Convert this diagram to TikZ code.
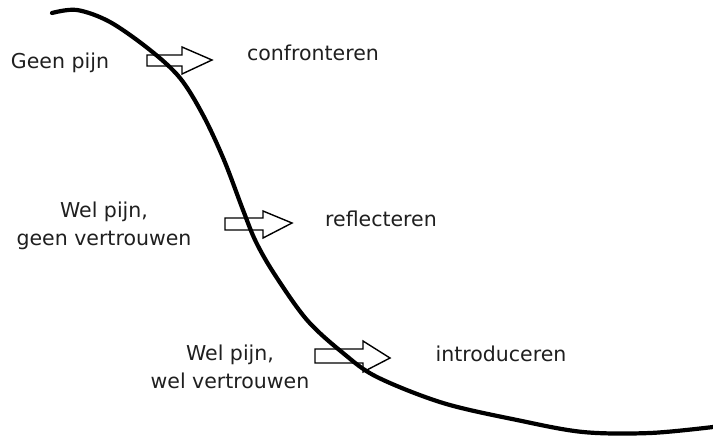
\documentclass[tikz,border=0pt]{standalone}
\usepackage{fontspec}
\setmainfont{DejaVu Sans}
\begin{document}
\begin{tikzpicture}[x=1pt,y=-1pt,
  lbl/.style={font=\fontsize{20.5}{28}\selectfont, text=black!88, inner sep=0pt, align=center},
  blockarrow/.style={draw=black, line width=1.4pt, line join=miter}]
\useasboundingbox (0,0) rectangle (713,440);
\fill[white] (0,0) rectangle (713,440);
% arrows
\draw[blockarrow] (147,55) -- (182,55) -- (182,47) -- (212,60) -- (182,74) -- (182,66) -- (147,66) -- cycle;
\draw[blockarrow] (225,218) -- (263,218) -- (263,211) -- (292,223) -- (263,238) -- (263,230) -- (225,230) -- cycle;
\draw[blockarrow] (315,349) -- (363,349) -- (363,341) -- (390,358) -- (363,372) -- (363,363) -- (315,363) -- cycle;
% curve
\draw[line width=4.2pt, line cap=round] plot[smooth, tension=0.55] coordinates {
 (52,13) (77,10) (110,22) (150,50) (180,78) (203,115) (224,160)
 (243,210) (256,242) (275,275) (307,320) (343,353) (377,377) (443,403)
 (517,420) (583,432) (650,433) (713,427)};
% texts
\node[lbl] (a1) at (60,63) {Geen pijn};
\node[lbl] (b1) at (313,53) {confronteren};
\node[lbl] (a2) at (104,226) {Wel pijn,\\geen vertrouwen};
\node[lbl] (b2) at (381,219) {reflecteren};
\node[lbl] (a3) at (230,367) {Wel pijn,\\wel vertrouwen};
\node[lbl] (b3) at (501,354) {introduceren};
\end{tikzpicture}
\end{document}
